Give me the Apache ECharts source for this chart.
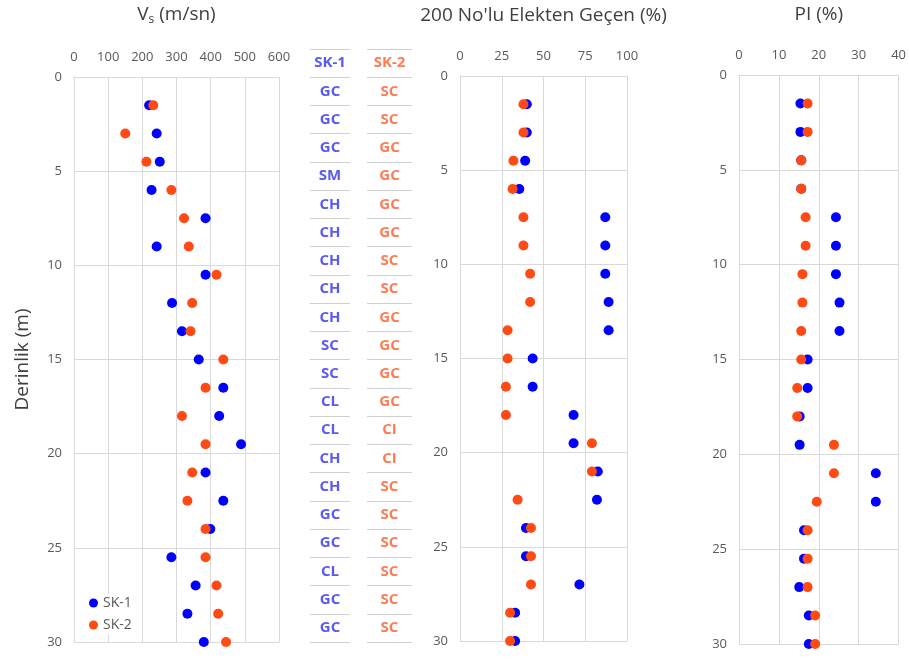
<!DOCTYPE html>
<html><head><meta charset="utf-8">
<script src="https://cdn.jsdelivr.net/npm/echarts@6/dist/echarts.min.js"></script>
<style>html,body{margin:0;padding:0;background:#fff}#c{width:909px;height:659px}</style>
</head><body><div id="c"></div>
<script>
const depths = [1.5,3,4.5,6,7.5,9,10.5,12,13.5,15,16.5,18,19.5,21,22.5,24,25.5,27,28.5,30];
const vsSK1 = [220,242,251,227,385,242,385,287,316,365,437,425,489,385,437,399,285,356,332,380];
const vsSK2 = [232,150,212,285,322,336,417,346,341,437,385,316,385,346,332,385,385,417,422,445];
const p200SK1 = [40,40,39,35.5,87,87,87,89,89,43.5,43.5,68,68,82.5,82,39.5,39.5,71.5,33,33];
const p200SK2 = [38,38,32,31.5,38,38,42,42,28.5,28.5,27.5,27.5,79,79,34.5,42.5,42.5,42.5,30,30];
const piSK1 = [15.4,15.4,15.6,15.6,24.3,24.3,24.3,25.2,25.2,17.2,17.2,15.2,15.2,34.3,34.3,16.3,16.3,15.1,17.5,17.5];
const piSK2 = [17.2,17.2,15.6,15.6,16.7,16.7,15.9,15.9,15.6,15.6,14.6,14.6,23.8,23.8,19.5,17.2,17.2,17.2,19.1,19.1];
const classSK1 = ['SK-1','GC','GC','GC','SM','CH','CH','CH','CH','CH','SC','SC','CL','CL','CH','CH','GC','GC','CL','GC','GC'];
const classSK2 = ['SK-2','SC','SC','GC','GC','GC','GC','SC','SC','GC','GC','GC','GC','CI','CI','SC','SC','SC','SC','SC','SC'];
const depthTicks = {min:0, max:30, interval:5};
const vsTicks = {min:0, max:600, interval:100};
const p200Ticks = {min:0, max:100, interval:25};
const piTicks = {min:0, max:40, interval:10};

const BLUE = '#0000ff', RED = '#ff4a14';
const FONT = 'Open Sans';
const gridColor = '#d9d9d9';
const txt = '#595959';
const titleColor = '#404040';

function pairs(xs){ return xs.map((v,i)=>[v, depths[i]]); }

function xAx(idx, t, name, nameRich){
  return {gridIndex:idx, type:'value', position:'top', min:t.min, max:t.max, interval:t.interval,
    name:name, nameLocation:'middle', nameGap:51,
    nameTextStyle: Object.assign({color:titleColor, fontSize:19, fontFamily:FONT}, nameRich?{rich:nameRich}:{}),
    axisLine:{show:true, lineStyle:{color:gridColor}}, axisTick:{show:false},
    axisLabel:{color:txt, fontSize:13, fontFamily:FONT, margin:13},
    splitLine:{show:true, lineStyle:{color:gridColor}}};
}
function yAx(idx, extra){
  return Object.assign({gridIndex:idx, type:'value', inverse:true, min:depthTicks.min, max:depthTicks.max, interval:depthTicks.interval,
    axisLine:{show:true, lineStyle:{color:gridColor}}, axisTick:{show:false},
    axisLabel:{color:txt, fontSize:13, fontFamily:FONT, margin:12},
    splitLine:{show:true, lineStyle:{color:gridColor}}}, extra||{});
}
function sc(name, xi, data, color){
  return {name:name, type:'scatter', xAxisIndex:xi, yAxisIndex:xi, data:pairs(data), symbolSize:10,
    itemStyle:{color:color, opacity:1}, emphasis:{disabled:true}};
}
const rows = classSK1.map((_,i)=>i);
function tableSeries(name, idx, arr, color){
  return {name:name, type:'scatter', xAxisIndex:idx, yAxisIndex:idx, symbolSize:1,
    itemStyle:{color:'transparent'}, silent:true,
    data: arr.map((c,i)=>({value:[0.5, i], label:{formatter:c}})),
    label:{show:true, position:'inside', color:color, fontSize:15, fontWeight:'bold', fontFamily:FONT}};
}
function tableAxes(idx){
  return {
    x:{gridIndex:idx, type:'value', min:0, max:1, show:false},
    y:{gridIndex:idx, type:'category', inverse:true, data:rows, boundaryGap:true,
      axisLine:{show:false}, axisTick:{show:false}, axisLabel:{show:false},
      splitLine:{show:true, interval:0, lineStyle:{color:'#d0d0d0', width:1}}}
  };
}
const t1 = tableAxes(3), t2 = tableAxes(4);

const chart = echarts.init(document.getElementById('c'), null, {renderer:'canvas'});
chart.setOption({
  animation:false,
  backgroundColor:'#fff',
  legend:{data:['SK-1','SK-2'], orient:'vertical', left:85, top:594, itemWidth:9, itemHeight:9, itemGap:8,
    backgroundColor:'#fff', padding:[2,4],
    textStyle:{color:txt, fontSize:14, fontFamily:FONT}},
  grid:[
    {left:74, top:75, width:205, height:567},
    {left:460, top:76, width:167, height:565},
    {left:739, top:75, width:163, height:569},
    {left:310, top:49, width:40, height:593},
    {left:367, top:49, width:45, height:593}
  ],
  xAxis:[
    xAx(0, vsTicks, '{v|V}{s|s}{v| (m/sn)}', {v:{fontSize:19, color:titleColor, fontFamily:FONT}, s:{fontSize:12, color:titleColor, fontFamily:FONT, padding:[11,0,0,0]}}),
    xAx(1, p200Ticks, "200 No'lu Elekten Geçen (%)"),
    xAx(2, piTicks, 'PI (%)'),
    t1.x, t2.x
  ],
  yAxis:[
    yAx(0, {name:'Derinlik (m)', nameLocation:'middle', nameRotate:90, nameGap:42,
      nameTextStyle:{color:titleColor, fontSize:19, fontFamily:FONT}}),
    yAx(1), yAx(2), t1.y, t2.y
  ],
  series:[
    sc('SK-1',0,vsSK1,BLUE), sc('SK-2',0,vsSK2,RED),
    sc('SK-1',1,p200SK1,BLUE), sc('SK-2',1,p200SK2,RED),
    sc('SK-1',2,piSK1,BLUE), sc('SK-2',2,piSK2,RED),
    tableSeries('tbl1',3,classSK1,'#3030f0'),
    tableSeries('tbl2',4,classSK2,'#ff5a28')
  ]
});
</script></body></html>
